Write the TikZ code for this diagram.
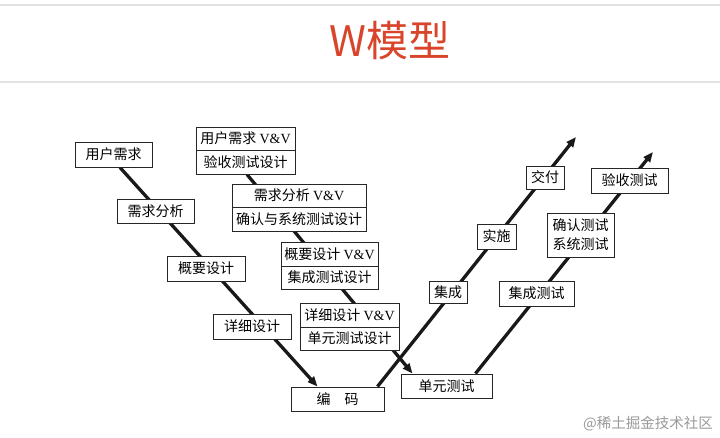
\documentclass[tikz,border=0pt]{standalone}
\usepackage{fontspec}
\setmainfont{Noto Sans CJK SC}
\newfontfamily\vvfont{Liberation Serif}
\usetikzlibrary{arrows.meta,calc}
\definecolor{titlered}{HTML}{D9452B}
\definecolor{rulegray}{HTML}{E2E2E2}
\pgfdeclarelayer{bg}
\pgfdeclarelayer{lines}
\pgfsetlayers{bg,lines,main}
\begin{document}
\begin{tikzpicture}[x=1pt,y=-1pt,
  box/.style={draw=black!85, line width=1pt, fill=white, inner sep=0pt,
    font=\fontsize{14}{19}\selectfont, align=center, text=black},
  flow/.style={line width=3.3pt, draw=black!90},
  tip/.style={-{Triangle[length=10pt,width=8pt]}}]
\begin{pgfonlayer}{bg}
  \fill[white] (0,0) rectangle (720,437);
  \useasboundingbox (0,0) rectangle (720,437);
  \draw[rulegray, line width=1.2pt] (0,5) -- (720,5);
  \draw[rulegray, line width=1.5pt] (0,82) -- (720,82);
\end{pgfonlayer}

% title
\node[text=titlered, font=\fontsize{42}{46}\selectfont, inner sep=0pt] (title) at (390,41) {W模型};

% left descending chain
\node[box, minimum width=77pt, minimum height=25pt] (yh) at (113.5,154.5) {用户需求};
\node[box, minimum width=77pt, minimum height=24pt] (xqfx) at (155.5,211) {需求分析};
\node[box, minimum width=78pt, minimum height=25pt] (gysj) at (206,268.5) {概要设计};
\node[box, minimum width=78pt, minimum height=25pt] (xxsj) at (252,326.5) {详细设计};
\node[box, minimum width=93pt, minimum height=24pt] (bm) at (337.5,399) {编\hspace{1em}码};

% V&V chain
\node[box, minimum width=99pt, minimum height=23pt] (vv1a) at (245.5,138.5) {用户需求 {\vvfont V\&V}};
\node[box, minimum width=99pt, minimum height=24pt] (vv1b) at (245.5,162) {验收测试设计};
\node[box, minimum width=134pt, minimum height=23pt] (vv2a) at (299,195.5) {需求分析 {\vvfont V\&V}};
\node[box, minimum width=134pt, minimum height=24pt] (vv2b) at (299,219) {确认与系统测试设计};
\node[box, minimum width=97pt, minimum height=24pt] (vv3a) at (329.5,254) {概要设计 {\vvfont V\&V}};
\node[box, minimum width=97pt, minimum height=23pt] (vv3b) at (329.5,277.5) {集成测试设计};
\node[box, minimum width=99pt, minimum height=24pt] (vv4a) at (349.5,315) {详细设计 {\vvfont V\&V}};
\node[box, minimum width=99pt, minimum height=23pt] (vv4b) at (349.5,338.5) {单元测试设计};
\node[box, minimum width=91pt, minimum height=24pt] (dycs) at (446.5,386) {单元测试};

% rising chain 1
\node[box, minimum width=38pt, minimum height=22pt] (jc) at (448,292) {集成};
\node[box, minimum width=39pt, minimum height=25pt] (ss) at (496.5,236.5) {实施};
\node[box, minimum width=38pt, minimum height=23pt] (jf) at (545,177.5) {交付};
\coordinate (tip1) at (576,137);

% rising chain 2
\node[box, minimum width=75pt, minimum height=25pt] (jccs) at (536.5,293.5) {集成测试};
\node[box, minimum width=67pt, minimum height=44pt] (qrcs) at (580.5,235) {确认测试\\系统测试};
\node[box, minimum width=77pt, minimum height=25pt] (yscs) at (629.5,180.5) {验收测试};
\coordinate (tip2) at (653,152);

% watermark
\node[text=black!40, font=\fontsize{14.5}{16}\selectfont, anchor=east, inner sep=0pt] (wm) at (713,424) {@稀土掘金技术社区};

\begin{pgfonlayer}{lines}
  \draw[flow, tip] ($(yh.south)+(6.5,0)$) -- ($(bm.north west)+(27,0)$);
  \draw[flow, tip] ($(vv1b.south)+(1.5,0)$) -- ($(dycs.north west)+(12,0)$);
  \draw[flow, tip] ($(bm.north east)+(-7,0)$) -- (tip1);
  \draw[flow, tip] ($(dycs.north west)+(75,0)$) -- (tip2);
\end{pgfonlayer}
\end{tikzpicture}
\end{document}
